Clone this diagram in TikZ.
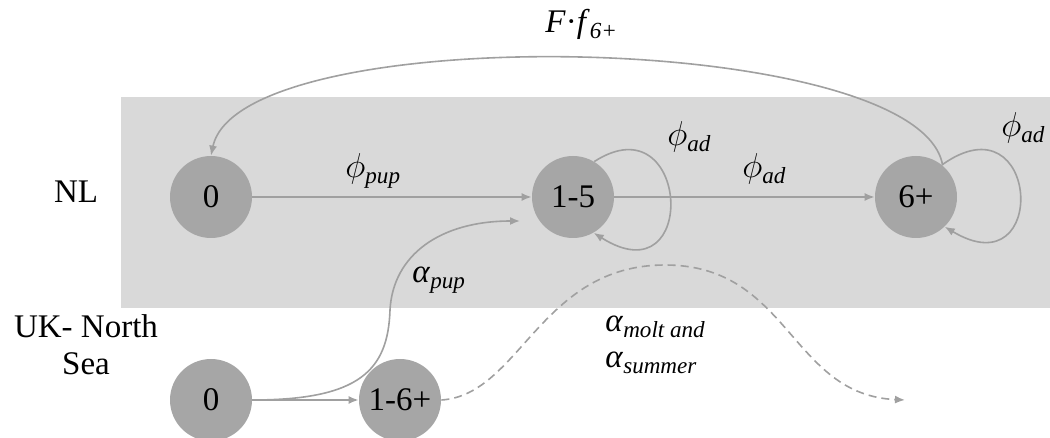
\documentclass[tikz,border=0pt]{standalone}
\usepackage{fontspec}
\setmainfont{Liberation Serif}
\usetikzlibrary{arrows.meta}
\definecolor{boxgrey}{HTML}{D9D9D9}
\definecolor{nodegrey}{HTML}{A6A6A6}
\definecolor{linegrey}{HTML}{A0A0A0}
\newcommand{\greeksub}[2]{\textit{#1}\textsubscript{\textit{#2}}}

\begin{document}
\begin{tikzpicture}[x=0.5pt,y=-0.5pt,
	state/.style={circle,fill=nodegrey,minimum size=41pt,inner sep=0pt,font=\fontsize{16.5}{18}\selectfont},
	lbl/.style={anchor=base,inner sep=0pt,font=\fontsize{16.5}{18}\selectfont},
	flow/.style={draw=linegrey,line width=0.8pt,-{Latex[length=5pt,width=4pt]}}]
	
	\useasboundingbox (0,0) rectangle (1050,438);
	\fill[boxgrey] (121,97) rectangle (1050,308);
	
	% NL
	\node[state] (nl0) at (211,197) {0};
	\node[state] (ofive) at (573,197) {1-5};
	\node[state] (six) at (916,197) {6+};
	
	% UK - North Sea
	\node[state] (uk0) at (211,400) {0};
	\node[state] (ukad) at (400,400) {1-6+};
	
	\coordinate (pupin) at (520,221);
	\coordinate (away) at (905,400);
	
	\draw[flow] (nl0) -- (ofive);
	\draw[flow] (ofive) -- (six);
	\draw[flow] (ofive.59) .. controls (690,100) and (700,300) .. (ofive.-60);
	\draw[flow] (six.51) .. controls (1040,95) and (1050,290) .. (six.-46);
	\draw[flow] (six.50) .. controls (920,30) and (240,18) .. (nl0.north);
	\draw[flow] (uk0) -- (ukad);
	\draw[flow] (uk0.east) .. controls (360,400) and (388,370) .. (390,310) .. controls (393,255) and (440,221) .. (pupin);
	\draw[flow,dash pattern=on 4pt off 2.5pt] (ukad.east) .. controls (520,395) and (540,265) .. (665,265) .. controls (790,265) and (790,395) .. (away);
	
	\node[lbl] (nl) at (76,203) {NL};
	\node[lbl] (uk) at (86,337) {UK- North};
	\node[lbl] (sea) at (86,374) {Sea};
	
	\node[lbl,anchor=base west] (ff) at (545,33) {\textit{F}·\greeksub{f}{6+}};
	\node[lbl,anchor=base west] (phipup) at (345,178) {\greeksub{$\phi$}{pup}};
	\node[lbl,anchor=base west] (phiadloop) at (667,146) {\greeksub{$\phi$}{ad}};
	\node[lbl,anchor=base west] (phiad) at (742,178) {\greeksub{$\phi$}{ad}};
	\node[lbl,anchor=base west] (phiadsix) at (1001,137) {\greeksub{$\phi$}{ad}};
	\node[lbl,anchor=base west] (alpup) at (412,283) {\greeksub{α}{pup}};
	\node[lbl,anchor=base west] (almolt) at (605,332) {\greeksub{α}{molt and}};
	\node[lbl,anchor=base west] (alsum) at (605,368) {\greeksub{α}{summer}};
	
\end{tikzpicture}
\end{document}
